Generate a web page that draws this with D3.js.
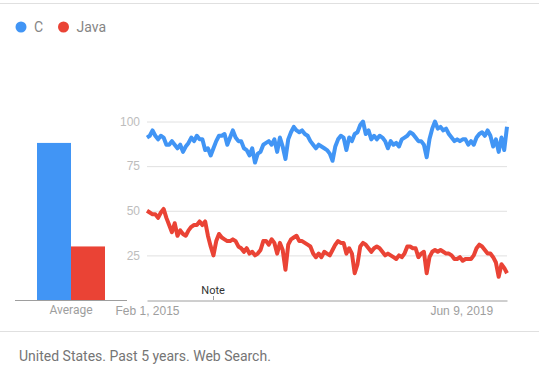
<!DOCTYPE html>
<html>
<head>
<meta charset="utf-8">
<script src="https://cdn.jsdelivr.net/npm/d3@7"></script>
<style>
  body { margin: 0; background: #fff; font-family: Roboto, "Open Sans", sans-serif; }
  .grid line { stroke: #e0e0e0; }
  .grid text { fill: #bdbdbd; font-size: 12px; }
  .xaxis text { fill: #9e9e9e; font-size: 12px; }
</style>
</head>
<body>
<div id="chart"></div>
<script>
const width = 539;
const height = 375;

// Search interest, one value every two weeks from Feb 1, 2015
const start_date = new Date(2015, 1, 1);
const end_date = new Date(2020, 0, 26);
const c_values = [
  91, 92, 95, 92, 90, 92, 91, 87, 87, 89, 87, 85, 87, 83, 86, 88, 91, 89, 92, 90,
  90, 84, 85, 81, 85, 89, 92, 92, 93, 87, 91, 95, 91, 89, 89, 85, 84, 81, 85, 77,
  82, 83, 87, 88, 89, 87, 90, 83, 91, 86, 79, 90, 94, 97, 95, 94, 95, 93, 92, 89,
  87, 85, 87, 86, 85, 84, 82, 78, 86, 90, 92, 91, 84, 91, 89, 93, 94, 98, 100, 93,
  95, 90, 92, 90, 92, 91, 89, 85, 89, 87, 88, 86, 90, 91, 92, 94, 93, 91, 89, 89,
  87, 80, 90, 96, 100, 96, 97, 95, 96, 93, 91, 89, 90, 89, 90, 90, 87, 89, 87, 91,
  93, 94, 92, 95, 92, 86, 90, 83, 91, 84, 97
];
const java_values = [
  50, 49, 48, 48, 46, 49, 51, 46, 42, 38, 43, 36, 39, 37, 36, 39, 41, 42, 42, 44,
  42, 44, 36, 30, 25, 33, 37, 35, 34, 33, 33, 34, 33, 30, 29, 27, 29, 26, 27, 25,
  26, 28, 33, 33, 31, 34, 32, 26, 32, 28, 17, 31, 34, 35, 36, 33, 33, 32, 31, 30,
  26, 24, 26, 24, 27, 26, 25, 28, 31, 33, 32, 32, 26, 29, 26, 15, 20, 30, 32, 31,
  29, 27, 29, 30, 29, 27, 25, 26, 25, 24, 23, 25, 24, 26, 30, 30, 29, 29, 24, 26,
  27, 15, 24, 27, 28, 27, 28, 27, 26, 26, 25, 23, 23, 24, 22, 23, 23, 23, 25, 29,
  31, 30, 28, 26, 26, 24, 21, 13, 20, 18, 15
];
const terms = ['C', 'Java'];
const averages = [88, 30];
const colors = ['#4195f5', '#ea4335'];
const y_ticks = [25, 50, 75, 100];
const x_ticks = [new Date(2015, 1, 1), new Date(2019, 5, 9)];
const note_date = new Date(2016, 0, 1);
const footer = 'United States. Past 5 years. Web Search.';

const dates = c_values.map((d, i) => d3.timeDay.offset(start_date, i * 14));

const x_scale = d3.scaleTime()
  .domain([start_date, end_date])
  .range([147, 507]);
const y_scale = d3.scaleLinear()
  .domain([0, 100])
  .range([300, 121.5]);
const bar_scale = d3.scaleBand()
  .domain(terms)
  .range([37, 105]);
const color_scale = d3.scaleOrdinal(terms, colors);

const svg = d3.select('#chart')
  .append('svg')
    .attr('width', width)
    .attr('height', height);

// frame lines
svg.append('line')
  .attr('x1', 0).attr('x2', width)
  .attr('y1', 3.5).attr('y2', 3.5)
  .attr('stroke', '#e0e0e0');
svg.append('line')
  .attr('x1', 0).attr('x2', width)
  .attr('y1', 331.5).attr('y2', 331.5)
  .attr('stroke', '#e0e0e0');

// legend
const legend = svg.selectAll('.legend')
    .data(terms)
  .join('g')
    .attr('class', 'legend')
    .attr('transform', (d, i) => 'translate(' + (21 + i * 42.5) + ',27)');
legend.append('circle')
  .attr('r', 5.5)
  .attr('fill', d => color_scale(d));
legend.append('text')
  .attr('x', 13)
  .attr('y', 5)
  .attr('fill', '#858585')
  .style('font-size', '14px')
  .text(d => d);

// average bars
svg.selectAll('.bar')
    .data(terms)
  .join('rect')
    .attr('class', 'bar')
    .attr('x', d => bar_scale(d))
    .attr('width', bar_scale.bandwidth())
    .attr('y', (d, i) => y_scale(averages[i]))
    .attr('height', (d, i) => y_scale(0) - y_scale(averages[i]))
    .attr('fill', d => color_scale(d));
svg.append('line')
  .attr('x1', 15).attr('x2', 127)
  .attr('y1', 300.5).attr('y2', 300.5)
  .attr('stroke', '#9e9e9e');
svg.append('text')
  .attr('x', 71)
  .attr('y', 314)
  .attr('text-anchor', 'middle')
  .attr('fill', '#9e9e9e')
  .style('font-size', '12px')
  .text('Average');

// grid and y labels
svg.append('g')
  .attr('class', 'grid')
  .attr('transform', 'translate(147,0)')
  .call(d3.axisLeft(y_scale)
    .tickValues(y_ticks)
    .tickSize(-360)
    .tickPadding(7))
  .call(g => g.select('.domain').remove());

// x axis
svg.append('g')
  .attr('class', 'xaxis')
  .attr('transform', 'translate(0,300.5)')
  .call(d3.axisBottom(x_scale)
    .tickValues(x_ticks)
    .tickSize(0)
    .tickPadding(6)
    .tickFormat(d3.timeFormat('%b %-d, %Y')))
  .call(g => g.select('.domain').attr('stroke', '#9e9e9e'));

// note marker
svg.append('line')
  .attr('x1', Math.round(x_scale(note_date)) + 0.5)
  .attr('x2', Math.round(x_scale(note_date)) + 0.5)
  .attr('y1', 296).attr('y2', 300)
  .attr('stroke', '#9e9e9e');
svg.append('text')
  .attr('x', x_scale(note_date))
  .attr('y', 294)
  .attr('text-anchor', 'middle')
  .attr('fill', '#333')
  .style('font-size', '11px')
  .text('Note');

// trend lines
const line = d3.line()
  .x((d, i) => x_scale(dates[i]))
  .y(d => y_scale(d));
svg.selectAll('.trend')
    .data([c_values, java_values])
  .join('path')
    .attr('class', 'trend')
    .attr('d', line)
    .attr('fill', 'none')
    .attr('stroke', (d, i) => colors[i])
    .attr('stroke-width', 4)
    .attr('stroke-linejoin', 'round');

svg.append('text')
  .attr('x', 19)
  .attr('y', 361)
  .attr('fill', '#757575')
  .style('font-size', '14px')
  .text(footer);
</script>
</body>
</html>
